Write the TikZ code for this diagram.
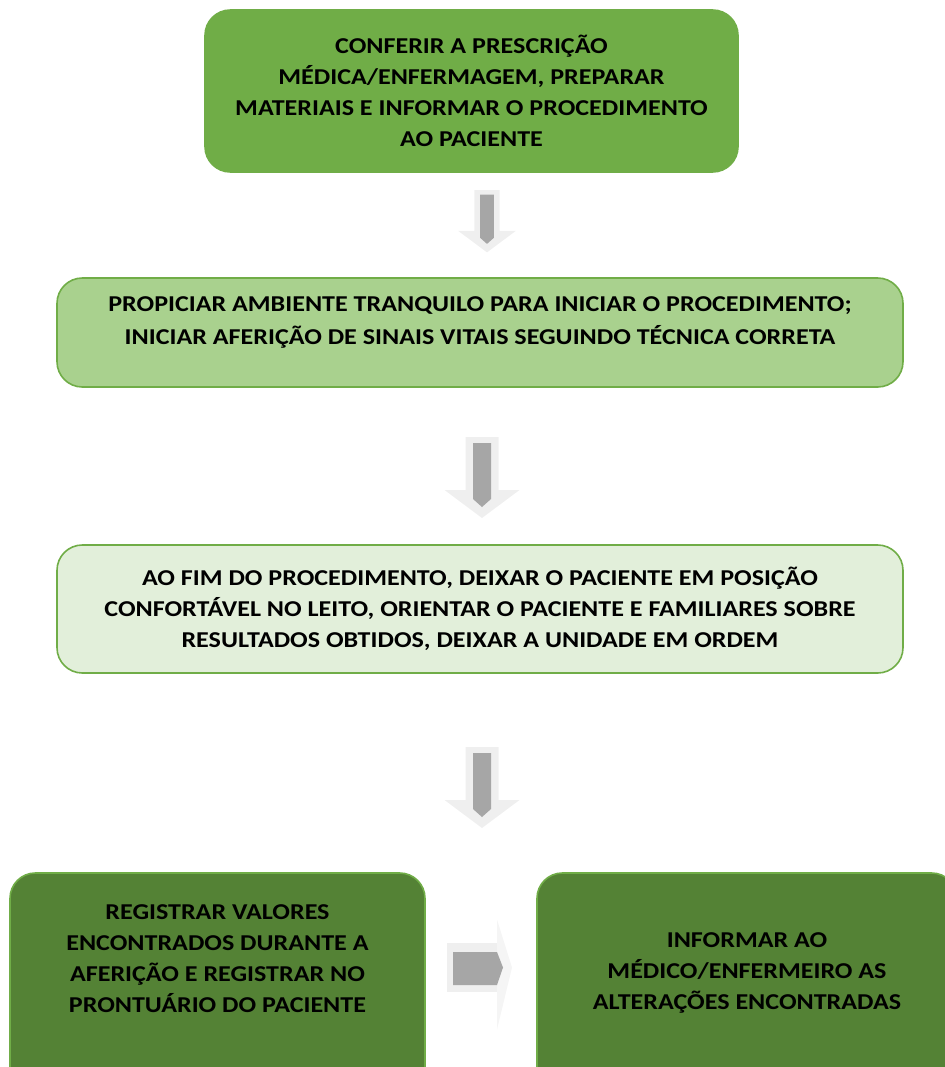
\documentclass[tikz,border=0pt]{standalone}
\usepackage{fontspec}
\setmainfont{Carlito}[FakeStretch=1.15]
\usepackage{xcolor}
\usetikzlibrary{positioning,calc}

\definecolor{greenA}{HTML}{70AD47}
\definecolor{greenB}{HTML}{A9D18E}
\definecolor{greenC}{HTML}{E2EFDA}
\definecolor{greenD}{HTML}{548235}
\definecolor{arrowLight}{HTML}{EFEFEF}
\definecolor{arrowDark}{HTML}{A6A6A6}

\tikzset{
    stepbox/.style={draw=greenA, line width=1.2pt, rectangle, rounded corners=19pt, inner sep=0pt},
    steptext/.style={align=center, font=\bfseries\fontsize{17}{23.25}\selectfont, text=black, inner sep=0pt},
    down arrow/.pic={
        \fill[arrowLight] (-16.5,0) -- (16.5,0) -- (16.5,53) -- (37.5,53) -- (0,81)
            -- (-37.5,53) -- (-16.5,53) -- cycle;
        \fill[arrowDark] (-9,6) -- (9,6) -- (9,62) -- (0,70) -- (-9,62) -- cycle;
    },
    right arrow/.pic={
        \fill[arrowLight!60] (50,-48) -- (65,0) -- (50,62) -- cycle;
        \fill[arrowLight] (0,-24.5) -- (50,-24.5) -- (50,24.5) -- (0,24.5) -- cycle;
        \fill[arrowDark] (6,-15.5) -- (50,-15.5) -- (56,0) -- (50,17.5) -- (6,17.5) -- cycle;
    }
}

\begin{document}
\begin{tikzpicture}[x=0.75pt, y=-0.75pt]
    \useasboundingbox (0,0) rectangle (945,1067);

    % caixas das etapas
    \node[stepbox, fill=greenA, minimum width=533*0.75pt, minimum height=162*0.75pt] (conferir) at (471.5,91) {};
    \node[stepbox, fill=greenB, minimum width=846*0.75pt, minimum height=109*0.75pt] (propiciar) at (480,332.5) {};
    \node[stepbox, fill=greenC, minimum width=846*0.75pt, minimum height=128*0.75pt] (finalizar) at (480,609) {};
    \node[stepbox, fill=greenD, minimum width=415*0.75pt, minimum height=240*0.75pt] (registrar) at (217.5,993) {};
    \node[stepbox, fill=greenD, minimum width=420*0.75pt, minimum height=240*0.75pt] (informar) at (747,993) {};

    % textos
    \node[steptext] (conferir-txt) at (conferir)
        {CONFERIR A PRESCRIÇÃO\\ MÉDICA/ENFERMAGEM, PREPARAR\\ MATERIAIS E INFORMAR O PROCEDIMENTO\\ AO PACIENTE};
    \node[steptext, font=\bfseries\fontsize{17}{24.75}\selectfont] (propiciar-txt) at ($(propiciar)+(0,-10)$)
        {PROPICIAR AMBIENTE TRANQUILO PARA INICIAR O PROCEDIMENTO;\\ INICIAR AFERIÇÃO DE SINAIS VITAIS SEGUINDO TÉCNICA CORRETA};
    \node[steptext] (finalizar-txt) at (finalizar)
        {AO FIM DO PROCEDIMENTO, DEIXAR O PACIENTE EM POSIÇÃO\\ CONFORTÁVEL NO LEITO, ORIENTAR O PACIENTE E FAMILIARES SOBRE\\ RESULTADOS OBTIDOS, DEIXAR A UNIDADE EM ORDEM};
    \node[steptext] (registrar-txt) at ($(registrar.north)+(0,86)$)
        {REGISTRAR VALORES\\ ENCONTRADOS DURANTE A\\ AFERIÇÃO E REGISTRAR NO\\ PRONTUÁRIO DO PACIENTE};
    \node[steptext] (informar-txt) at ($(informar.north)+(0,101)$)
        {INFORMAR AO\\ MÉDICO/ENFERMEIRO AS\\ ALTERAÇÕES ENCONTRADAS};

    % setas entre as etapas
    \pic[scale=0.77] at (487,190) {down arrow};
    \pic at (482,437) {down arrow};
    \pic at (482,747) {down arrow};
    \pic at (447,967.5) {right arrow};
\end{tikzpicture}
\end{document}
